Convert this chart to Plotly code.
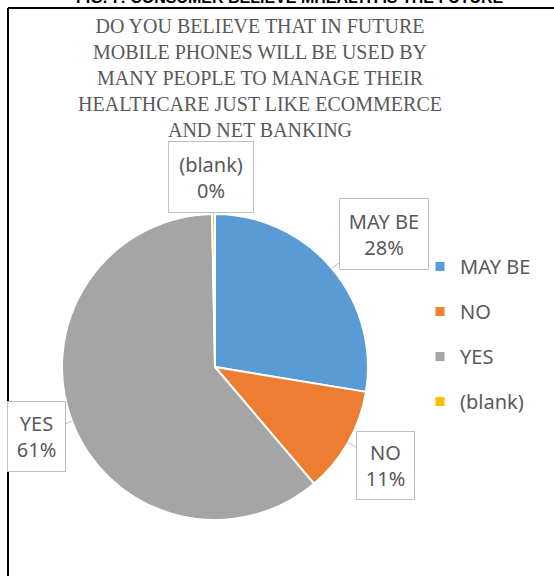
import math
import plotly.graph_objects as go

# ---- data ----
labels = ["MAY BE", "NO", "YES", "(blank)"]
values = [27.6, 11.2, 60.9, 0.3]
colors = ["#5B9BD5", "#ED7D31", "#A5A5A5", "#FFC000"]
chart_title = ("DO YOU BELIEVE THAT IN FUTURE<br>MOBILE PHONES WILL BE USED BY<br>"
               "MANY PEOPLE TO MANAGE THEIR<br>HEALTHCARE JUST LIKE ECOMMERCE<br>AND NET BANKING")
fig_caption = "FIG. 7: CONSUMER BELIEVE MHEALTH IS THE FUTURE"

W, H = 554, 576
cx, cy, R = 215, 367, 153  # pie centre/radius in px

# callout box offsets (px from tip) and sizes
callout = {
    "MAY BE": dict(ax=52, ay=-34, w=88, h=70),
    "NO": dict(ax=37, ay=23, w=57, h=67),
    "YES": dict(ax=-35, ay=15, w=57, h=69),
    "(blank)": dict(ax=-3, ay=-37, w=84, h=70),
}

fig = go.Figure()
fig.add_trace(go.Pie(
    labels=labels, values=values, sort=False, direction="clockwise", rotation=0,
    marker=dict(colors=colors, line=dict(color="white", width=2)),
    textinfo="none", showlegend=False, hoverinfo="label+percent",
    domain=dict(x=[(cx - R) / W, (cx + R) / W], y=[(H - cy - R) / H, (H - cy + R) / H]),
))

# legend entries (one group each to control spacing)
for lab, col in zip(labels, colors):
    fig.add_trace(go.Scatter(
        x=[None], y=[None], mode="markers", name=lab, legendgroup=lab,
        marker=dict(symbol="square", size=9, color=col), showlegend=True,
    ))

total = sum(values)
cum = 0.0
annotations = []
for lab, v in zip(labels, values):
    mid = (cum + v / 2) / total * 2 * math.pi
    cum += v
    tx = cx + R * math.sin(mid)
    ty = cy - R * math.cos(mid)
    c = callout[lab]
    annotations.append(dict(
        x=tx / W, y=1 - ty / H, xref="paper", yref="paper",
        text=f"{lab}<br>{round(v / total * 100)}%",
        showarrow=True, arrowhead=0, arrowwidth=1, arrowcolor="#BFBFBF",
        ax=c["ax"], ay=c["ay"], width=c["w"], height=c["h"],
        bordercolor="#BFBFBF", borderwidth=1, borderpad=0, bgcolor="white",
        font=dict(family="Noto Sans", size=20, color="#595959"),
    ))

annotations.append(dict(
    x=290 / W, y=1 - 8 / H, xref="paper", yref="paper", xanchor="center", yanchor="bottom",
    text=f"<b>{fig_caption}</b>", showarrow=False,
    font=dict(family="Liberation Sans", size=16, color="black"),
))

fig.update_layout(
    width=W, height=H, margin=dict(l=0, r=0, t=0, b=0),
    paper_bgcolor="white", plot_bgcolor="white",
    title=dict(text=chart_title, x=260 / W, xanchor="center", y=1 - 33 / H, yanchor="top",
               font=dict(family="Liberation Serif", size=20, color="#595959")),
    xaxis=dict(visible=False), yaxis=dict(visible=False),
    legend=dict(x=420 / W, y=1 - 247 / H, xanchor="left", yanchor="top",
                font=dict(family="Noto Sans", size=20, color="#595959"),
                tracegroupgap=16, itemwidth=30, bgcolor="rgba(0,0,0,0)"),
    annotations=annotations,
    shapes=[
        dict(type="line", xref="paper", yref="paper", x0=8 / W, x1=1.05, y0=1 - 8 / H, y1=1 - 8 / H,
             line=dict(color="black", width=2)),
        dict(type="line", xref="paper", yref="paper", x0=8 / W, x1=8 / W, y0=1 - 8 / H, y1=-0.05,
             line=dict(color="black", width=2)),
    ],
)

fig.write_html("out.html")
